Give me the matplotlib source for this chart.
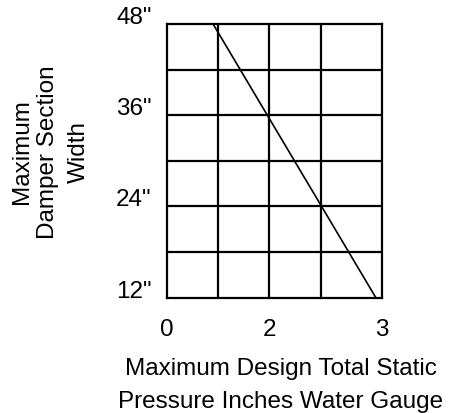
import matplotlib
matplotlib.use('Agg')
import matplotlib.pyplot as plt

plt.rcParams['font.family'] = ['Liberation Sans', 'DejaVu Sans']

# grille du schéma (unités de colonne, la dernière colonne est plus large)
col_x = [0, 1, 2, 3, 4.19]
row_y = [12, 18, 24, 30, 36, 42, 48]

# graduations
x_tick_pos = [0, 2, 4.19]
x_tick_labels = ['0', '2', '3']
y_tick_pos = [12, 24, 36, 48]
y_tick_labels = ['12"', '24"', '36"', '48"']

# droite limite (pression max vs largeur max)
ligne_x = [0.9, 4.08]
ligne_y = [48, 12]

fs = 17.5
W, H = 454, 413
fig = plt.figure(figsize=(W / 100, H / 100), dpi=100)
# axes placés en pixels : gauche 167, droite 381.5, haut 24, bas 297.7
ax = fig.add_axes([167 / W, (H - 297.7) / H, 214.5 / W, 273.7 / H])
ax.set_xlim(col_x[0], col_x[-1])
ax.set_ylim(row_y[0], row_y[-1])

for xv in col_x[1:-1]:
    ax.axvline(xv, color='black', lw=1.6)
for yv in row_y[1:-1]:
    ax.axhline(yv, color='black', lw=1.6)
for s in ax.spines.values():
    s.set_linewidth(1.6)

ax.plot(ligne_x, ligne_y, color='black', lw=1.2)

ax.set_xticks(x_tick_pos)
ax.set_xticklabels(x_tick_labels, fontsize=fs)
ax.set_yticks(y_tick_pos)
ax.set_yticklabels(y_tick_labels, fontsize=fs)
ax.tick_params(axis='x', length=0, pad=15)
ax.tick_params(axis='y', length=0, pad=11)
for t in ax.get_yticklabels():
    t.set_verticalalignment('baseline')

# titres des axes
fig.text(281 / W, 1 - 375 / H, 'Maximum Design Total Static',
         ha='center', va='baseline', fontsize=fs)
fig.text(281 / W, 1 - 408 / H, 'Pressure Inches Water Gauge',
         ha='center', va='baseline', fontsize=fs)
for xb, txt in [(28, 'Maximum'), (54, 'Damper Section'), (85, 'Width')]:
    fig.text(xb / W, 1 - 152 / H, txt, rotation=90, rotation_mode='anchor',
             ha='center', va='baseline', fontsize=fs)

fig.savefig('out.png', dpi=100)
